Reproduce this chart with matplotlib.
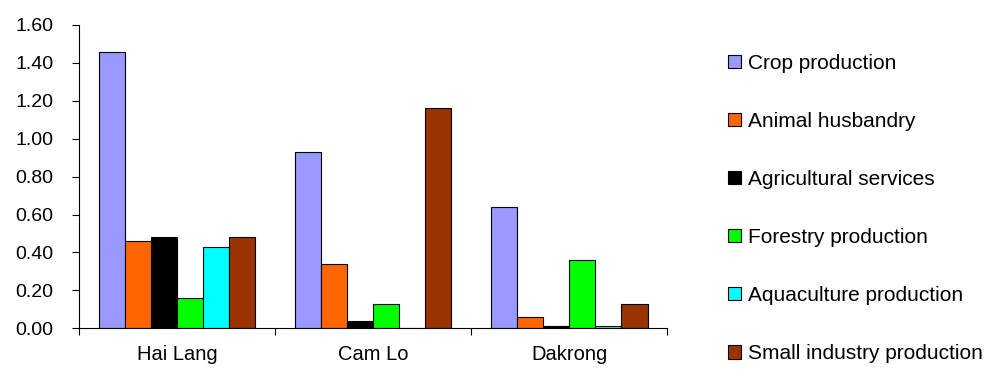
import numpy as np
import matplotlib.pyplot as plt
from matplotlib.patches import Patch

plt.rcParams['font.family'] = ['Liberation Sans', 'DejaVu Sans']

districts = ["Hai Lang", "Cam Lo", "Dakrong"]
sectors = ["Crop production", "Animal husbandry", "Agricultural services",
           "Forestry production", "Aquaculture production", "Small industry production"]
colors = ["#9999FF", "#FF6600", "#000000", "#00FF00", "#00FFFF", "#993300"]

crop = [1.46, 0.93, 0.64]
animal = [0.46, 0.34, 0.06]
services = [0.48, 0.04, 0.01]
forestry = [0.16, 0.13, 0.36]
aquaculture = [0.43, 0.00, 0.01]
small_industry = [0.48, 1.16, 0.13]
series = [crop, animal, services, forestry, aquaculture, small_industry]

fig = plt.figure(figsize=(10.02, 3.69), dpi=100)
ax = fig.add_axes([0.0788, 0.1103, 0.587, 0.822])

x = np.arange(len(districts))
w = 0.8 / len(series)
for i, vals in enumerate(series):
    ax.bar(x - 0.4 + w * (i + 0.5), vals, width=w, color=colors[i],
           edgecolor="black", linewidth=0.8, label=sectors[i])

ax.set_xlim(-0.5, 2.5)
ax.set_ylim(0, 1.6)
ax.set_yticks(np.arange(0, 1.61, 0.2))
ax.set_yticklabels(["%.2f" % v for v in np.arange(0, 1.61, 0.2)], fontsize=14)
ax.set_xticks(x)
ax.set_xticklabels(districts, fontsize=14.5)
ax.set_xticks([-0.5, 0.5, 1.5, 2.5], minor=True)
ax.tick_params(axis="x", which="major", length=0, pad=12)
ax.tick_params(axis="x", which="minor", length=5, width=0.8, direction="out")
ax.tick_params(axis="y", length=5, width=0.8, pad=13.5)
for s in ["top", "right"]:
    ax.spines[s].set_visible(False)
for s in ["left", "bottom"]:
    ax.spines[s].set_linewidth(0.8)

handles = [Patch(facecolor=c, edgecolor="black", linewidth=0.8) for c in colors]
fig.legend(handles, sectors, loc="upper left", bbox_to_anchor=(0.727, 0.855),
           frameon=False, fontsize=15, handlelength=0.6, handleheight=0.6,
           handletextpad=0.35, labelspacing=1.88, borderpad=0, borderaxespad=0)

fig.savefig("out.png", dpi=100)
